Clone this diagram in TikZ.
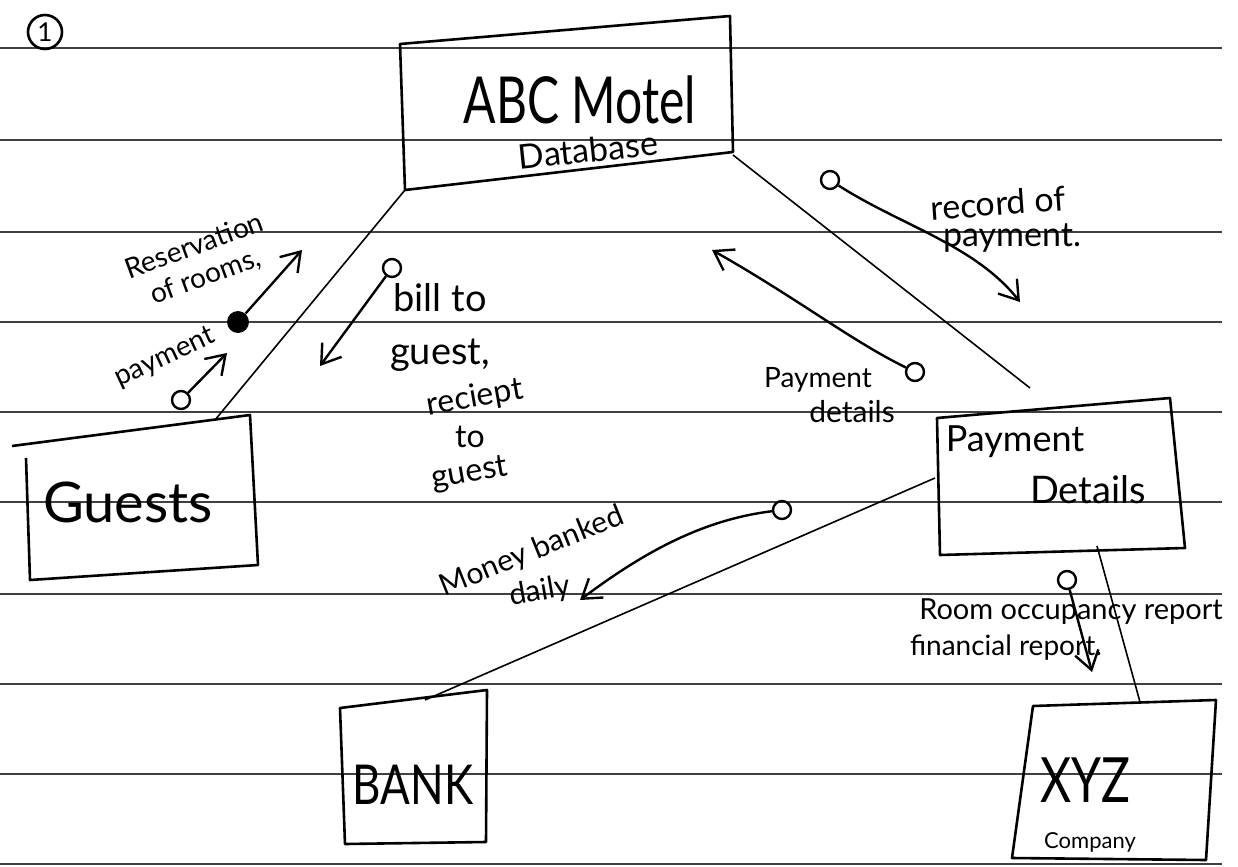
\documentclass[tikz,border=0pt]{standalone}
\usepackage{fontspec}
\setmainfont{Lato}
\usetikzlibrary{arrows.meta}
\begin{document}
\begin{tikzpicture}[x=0.5pt,y=-0.5pt,
  ruled/.style={line width=0.7pt, black!75},
  boxline/.style={line width=1.3pt, line join=round},
  link/.style={line width=0.8pt},
  flow/.style={line width=1.2pt, -{Straight Barb[length=9pt,width=12pt,line width=1.2pt]}},
  opendot/.style={circle, draw, line width=1.2pt, minimum size=9pt, inner sep=0pt},
  fulldot/.style={circle, fill, minimum size=11pt, inner sep=0pt},
  lbl/.style={inner sep=0pt, align=center}]
\useasboundingbox (0,0) rectangle (1238,867);
% ruled paper
\foreach \yy in {48,140,232,322,412,502,594,684,774,864}
  \draw[ruled] (0,\yy) -- (1222,\yy);
% number
\node[circle, draw, line width=1.3pt, minimum size=17pt, inner sep=0pt, font=\fontsize{13}{13}\selectfont] (num) at (45,32) {1};

% ABC Motel database
\coordinate (a1) at (400,44); \coordinate (a2) at (730,16);
\coordinate (a3) at (733,152); \coordinate (a4) at (405,190);
\draw[boxline] (a1) -- (a2) -- (a3) -- (a4) -- cycle;
\node[lbl, font=\fontsize{24}{24}\selectfont] (abc) at (580,100) {\scalebox{1}[1.35]{ABC Motel}};
\node[lbl, font=\fontsize{17}{17}\selectfont, rotate=6] (dbl) at (588,150) {Database};

% Guests
\coordinate (g1) at (12,446); \coordinate (g2) at (250,415);
\coordinate (g3) at (258,565); \coordinate (g4) at (30,580);
\draw[boxline] (g1) -- (g2) -- (g3) -- (g4) -- (26,458);
\node[lbl, font=\fontsize{28}{28}\selectfont] (guests) at (128,502) {Guests};

% Payment Details
\coordinate (p1) at (937,418); \coordinate (p2) at (1170,398);
\coordinate (p3) at (1185,548); \coordinate (p4) at (940,555);
\draw[boxline] (p1) -- (p2) -- (p3) -- (p4) -- cycle;
\node[lbl, font=\fontsize{18}{18}\selectfont] (pay1) at (1015,442) {Payment};
\node[lbl, font=\fontsize{19}{19}\selectfont] (pay2) at (1088,490) {Details};

% BANK
\coordinate (b1) at (340,708); \coordinate (b2) at (487,690);
\coordinate (b3) at (486,842); \coordinate (b4) at (345,844);
\draw[boxline] (b1) -- (b2) -- (b3) -- (b4) -- cycle;
\node[lbl, font=\fontsize{22}{22}\selectfont] (bank) at (413,785) {\scalebox{1}[1.25]{BANK}};

% XYZ Company
\coordinate (x1) at (1033,706); \coordinate (x2) at (1216,700);
\coordinate (x3) at (1206,860); \coordinate (x4) at (1012,858);
\draw[boxline] (x1) -- (x2) -- (x3) -- (x4) -- cycle;
\node[lbl, font=\fontsize{24}{24}\selectfont] (xyz) at (1085,780) {\scalebox{1}[1.3]{XYZ}};
\node[lbl, font=\fontsize{11}{11}\selectfont] (comp) at (1090,842) {Company};

% links between entities
\coordinate (ga) at (215,420);
\coordinate (ab) at (733,155);
\coordinate (pa) at (1030,388);
\coordinate (pl) at (935,478);
\coordinate (bt) at (425,700);
\coordinate (pb) at (1097,546);
\coordinate (xt) at (1140,702);
\draw[link] (a4) -- (ga);
\draw[link] (ab) -- (pa);
\draw[link] (pl) -- (bt);
\draw[link] (pb) -- (xt);

% flows
\node[fulldot] (d1) at (238,322) {};
\coordinate (e1) at (302,250);
\draw[flow] (d1) -- (e1);
\node[lbl, font=\fontsize{14}{16}\selectfont, rotate=20] (l1) at (200,262) {Reservation\\of rooms,};

\node[opendot] (d2) at (181,400) {};
\coordinate (e2) at (227,353);
\draw[flow] (d2) -- (e2);
\node[lbl, font=\fontsize{14}{14}\selectfont, rotate=25] (l2) at (165,358) {payment};

\node[opendot] (d3) at (392,268) {};
\coordinate (e3) at (320,366);
\draw[flow] (d3) -- (e3);
\node[lbl, font=\fontsize{19}{19}\selectfont] (l3a) at (440,298) {bill to};
\node[lbl, font=\fontsize{19}{19}\selectfont] (l3b) at (440,355) {guest,};
\node[lbl, font=\fontsize{16}{16}\selectfont, rotate=10] (l3c) at (475,398) {reciept};
\node[lbl, font=\fontsize{16}{16}\selectfont] (l3d) at (470,437) {to};
\node[lbl, font=\fontsize{16}{16}\selectfont, rotate=10] (l3e) at (470,474) {guest};

\node[opendot] (d4) at (830,180) {};
\coordinate (e4) at (1020,302);
\draw[flow] (d4) .. controls (900,225) and (975,245) .. (e4);
\node[lbl, font=\fontsize{17}{17}\selectfont, rotate=4] (l4a) at (998,203) {record of};
\node[lbl, font=\fontsize{17}{17}\selectfont] (l4b) at (1012,238) {payment.};

\node[opendot] (d5) at (915,372) {};
\coordinate (e5) at (712,250);
\draw[flow] (d5) .. controls (850,340) and (800,300) .. (e5);
\node[lbl, font=\fontsize{14}{14}\selectfont] (l5a) at (818,380) {Payment};
\node[lbl, font=\fontsize{15}{15}\selectfont] (l5b) at (852,412) {details};

\node[opendot] (d6) at (782,510) {};
\coordinate (e6) at (580,600);
\draw[flow] (d6) .. controls (700,520) and (640,555) .. (e6);
\node[lbl, font=\fontsize{15}{15}\selectfont, rotate=22] (l6a) at (532,552) {Money banked};
\node[lbl, font=\fontsize{15}{15}\selectfont, rotate=10] (l6b) at (540,592) {daily};

\node[opendot] (d7) at (1067,580) {};
\coordinate (e7) at (1092,672);
\draw[flow] (d7) -- (e7);
\node[lbl, font=\fontsize{14.5}{14.5}\selectfont] (l7a) at (1071,612) {Room occupancy report};
\node[lbl, font=\fontsize{14}{14}\selectfont] (l7b) at (1006,648) {financial report.};
\end{tikzpicture}
\end{document}
